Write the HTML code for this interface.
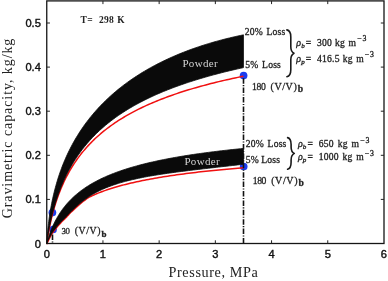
<!DOCTYPE html>
<html><head><meta charset="utf-8"><title>Gravimetric capacity</title>
<style>html,body{margin:0;padding:0;background:#fff}svg{display:block}</style></head>
<body>
<svg width="388" height="281" viewBox="0 0 388 281">
<rect width="388" height="281" fill="#fff"/>
<circle cx="243.6" cy="75.6" r="3.85" fill="#1a3cf0"/>
<circle cx="243.7" cy="166.5" r="3.85" fill="#1a3cf0"/>
<circle cx="52.4" cy="212.6" r="3.85" fill="#1a3cf0"/>
<circle cx="53.0" cy="229.5" r="3.85" fill="#1a3cf0"/>
<path d="M46.75 244.09 L46.76 244.01 L46.79 243.77 L46.84 243.38 L46.91 242.83 L47.00 242.14 L47.12 241.33 L47.25 240.40 L47.40 239.35 L47.57 238.21 L47.77 236.97 L47.98 235.65 L48.22 234.25 L48.47 232.78 L48.75 231.25 L49.04 229.66 L49.36 228.03 L49.69 226.34 L50.05 224.62 L50.43 222.86 L50.82 221.07 L51.24 219.25 L51.68 217.41 L52.14 215.55 L52.61 213.68 L53.11 211.79 L53.63 209.89 L54.17 207.99 L54.73 206.08 L55.31 204.23 L55.91 202.34 L56.53 200.45 L57.17 198.57 L57.84 196.70 L58.52 194.83 L59.22 192.97 L59.94 191.12 L60.69 189.28 L61.45 187.45 L62.23 185.63 L63.04 183.83 L63.86 182.04 L64.71 180.27 L65.57 178.51 L66.46 176.76 L67.37 175.04 L68.29 173.32 L69.24 171.63 L70.21 169.95 L71.19 168.28 L72.20 166.63 L73.23 165.00 L74.28 163.39 L75.35 161.80 L76.44 160.22 L77.55 158.66 L78.68 157.11 L79.83 155.58 L81.00 154.07 L82.19 152.58 L83.40 151.11 L84.63 149.65 L85.88 148.21 L87.16 146.78 L88.45 145.37 L89.76 143.98 L91.10 142.61 L92.45 141.25 L93.83 139.90 L95.22 138.58 L96.64 137.27 L98.07 135.97 L99.53 134.69 L101.00 133.43 L102.50 132.18 L104.02 130.94 L105.55 129.73 L107.11 128.52 L108.69 127.33 L110.29 126.16 L111.91 125.00 L113.55 123.85 L115.20 122.72 L116.88 121.60 L118.58 120.49 L120.31 119.40 L122.05 118.32 L123.81 117.25 L125.59 116.20 L127.39 115.16 L129.21 114.13 L131.06 113.12 L132.92 112.11 L134.80 111.12 L136.71 110.14 L138.63 109.18 L140.57 108.22 L142.54 107.28 L144.52 106.34 L146.53 105.42 L148.56 104.51 L150.60 103.61 L152.67 102.72 L154.76 101.84 L156.86 100.97 L158.99 100.11 L161.14 99.27 L163.31 98.43 L165.50 97.60 L167.71 96.78 L169.94 95.97 L172.19 95.17 L174.46 94.38 L176.75 93.60 L179.06 92.83 L181.39 92.07 L183.74 91.32 L186.11 90.57 L188.51 89.84 L190.92 89.11 L193.35 88.39 L195.80 87.68 L198.28 86.98 L200.77 86.28 L203.29 85.60 L205.82 84.92 L208.38 84.25 L210.95 83.59 L213.55 82.93 L216.17 82.28 L218.80 81.64 L221.46 81.01 L224.14 80.39 L226.84 79.77 L229.55 79.16 L232.29 78.55 L235.05 77.96 L237.83 77.37 L240.63 76.78 L243.45 76.21" fill="none" stroke="#f01010" stroke-width="1.5"/>
<path d="M46.75 244.10 L46.76 244.02 L46.79 243.91 L46.84 243.78 L46.91 243.62 L47.00 243.43 L47.12 243.17 L47.25 242.87 L47.40 242.54 L47.57 242.17 L47.77 241.76 L47.98 241.31 L48.22 240.83 L48.47 240.32 L48.75 239.77 L49.04 239.18 L49.36 238.56 L49.69 237.90 L50.05 237.21 L50.43 236.48 L50.82 235.72 L51.24 234.93 L51.68 234.11 L52.14 233.32 L52.61 232.69 L53.11 232.05 L53.63 231.38 L54.17 230.70 L54.73 230.00 L55.31 229.28 L55.91 228.50 L56.53 227.71 L57.17 226.90 L57.84 226.08 L58.52 225.30 L59.22 224.51 L59.94 223.72 L60.69 222.92 L61.45 222.11 L62.23 221.30 L63.04 220.49 L63.86 219.68 L64.71 218.86 L65.57 218.04 L66.46 217.13 L67.37 216.12 L68.29 215.12 L69.24 214.11 L70.21 213.10 L71.19 212.10 L72.20 211.10 L73.23 210.10 L74.28 209.11 L75.35 208.12 L76.44 207.13 L77.55 206.13 L78.68 205.13 L79.83 204.15 L81.00 203.17 L82.19 202.21 L83.40 201.26 L84.63 200.32 L85.88 199.40 L87.16 198.49 L88.45 197.60 L89.76 196.90 L91.10 196.22 L92.45 195.56 L93.83 194.95 L95.22 194.35 L96.64 193.75 L98.07 193.17 L99.53 192.59 L101.00 192.02 L102.50 191.46 L104.02 190.91 L105.55 190.37 L107.11 189.83 L108.69 189.30 L110.29 188.78 L111.91 188.27 L113.55 187.76 L115.20 187.26 L116.88 186.77 L118.58 186.29 L120.31 185.81 L122.05 185.34 L123.81 184.88 L125.59 184.42 L127.39 183.97 L129.21 183.53 L131.06 183.09 L132.92 182.66 L134.80 182.23 L136.71 181.82 L138.63 181.40 L140.57 180.99 L142.54 180.59 L144.52 180.20 L146.53 179.80 L148.56 179.42 L150.60 179.04 L152.67 178.66 L154.76 178.29 L156.86 177.93 L158.99 177.57 L161.14 177.21 L163.31 176.86 L165.50 176.52 L167.71 176.17 L169.94 175.84 L172.19 175.50 L174.46 175.18 L176.75 174.85 L179.06 174.53 L181.39 174.22 L183.74 173.90 L186.11 173.60 L188.51 173.29 L190.92 172.99 L193.35 172.69 L195.80 172.40 L198.28 172.11 L200.77 171.83 L203.29 171.54 L205.82 171.26 L208.38 170.99 L210.95 170.71 L213.55 170.44 L216.17 170.18 L218.80 169.91 L221.46 169.65 L224.14 169.40 L226.84 169.14 L229.55 168.89 L232.29 168.64 L235.05 168.39 L237.83 168.15 L240.63 167.91 L243.45 167.67" fill="none" stroke="#f01010" stroke-width="1.5"/>
<path d="M46.75 243.48 L46.76 243.11 L46.79 242.42 L46.84 241.44 L46.91 240.24 L47.00 238.84 L47.12 237.28 L47.25 235.58 L47.40 233.76 L47.57 231.85 L47.77 229.86 L47.98 227.80 L48.22 225.68 L48.47 223.53 L48.75 221.33 L49.04 219.11 L49.36 216.87 L49.69 214.62 L50.05 212.36 L50.43 210.09 L50.82 207.82 L51.24 205.55 L51.68 203.29 L52.14 201.04 L52.61 198.80 L53.11 196.57 L53.63 194.35 L54.17 192.15 L54.73 189.96 L55.31 187.78 L55.91 185.56 L56.53 183.36 L57.17 181.18 L57.84 179.01 L58.52 176.86 L59.22 174.73 L59.94 172.62 L60.69 170.52 L61.45 168.44 L62.23 166.37 L63.04 164.33 L63.86 162.29 L64.71 160.28 L65.57 158.28 L66.46 156.29 L67.37 154.32 L68.29 152.36 L69.24 150.42 L70.21 148.49 L71.19 146.58 L72.20 144.68 L73.23 142.80 L74.28 140.93 L75.35 139.08 L76.44 137.24 L77.55 135.42 L78.68 133.61 L79.83 131.82 L81.00 130.05 L82.19 128.29 L83.40 126.54 L84.63 124.81 L85.88 123.09 L87.16 121.39 L88.45 119.71 L89.76 118.04 L91.10 116.38 L92.45 114.74 L93.83 113.12 L95.22 111.50 L96.64 109.91 L98.07 108.33 L99.53 106.76 L101.00 105.21 L102.50 103.67 L104.02 102.15 L105.55 100.65 L107.11 99.15 L108.69 97.68 L110.29 96.21 L111.91 94.76 L113.55 93.33 L115.20 91.91 L116.88 90.51 L118.58 89.12 L120.31 87.74 L122.05 86.38 L123.81 85.03 L125.59 83.70 L127.39 82.38 L129.21 81.08 L131.06 79.79 L132.92 78.51 L134.80 77.25 L136.71 76.00 L138.63 74.77 L140.57 73.55 L142.54 72.34 L144.52 71.15 L146.53 69.98 L148.56 68.82 L150.60 67.67 L152.67 66.53 L154.76 65.41 L156.86 64.31 L158.99 63.22 L161.14 62.14 L163.31 61.08 L165.50 60.03 L167.71 59.00 L169.94 57.98 L172.19 56.97 L174.46 55.98 L176.75 55.01 L179.06 54.04 L181.39 53.10 L183.74 52.16 L186.11 51.25 L188.51 50.34 L190.92 49.45 L193.35 48.58 L195.80 47.72 L198.28 46.88 L200.77 46.05 L203.29 45.23 L205.82 44.43 L208.38 43.65 L210.95 42.88 L213.55 42.12 L216.17 41.38 L218.80 40.66 L221.46 39.95 L224.14 39.25 L226.84 38.57 L229.55 37.91 L232.29 37.26 L235.05 36.63 L237.83 36.01 L240.63 35.41 L243.45 34.83 L243.45 67.61 L240.63 68.23 L237.83 68.86 L235.05 69.50 L232.29 70.14 L229.55 70.79 L226.84 71.45 L224.14 72.12 L221.46 72.79 L218.80 73.48 L216.17 74.17 L213.55 74.87 L210.95 75.57 L208.38 76.29 L205.82 77.01 L203.29 77.75 L200.77 78.49 L198.28 79.24 L195.80 79.99 L193.35 80.76 L190.92 81.54 L188.51 82.32 L186.11 83.12 L183.74 83.92 L181.39 84.74 L179.06 85.56 L176.75 86.39 L174.46 87.24 L172.19 88.09 L169.94 88.95 L167.71 89.83 L165.50 90.71 L163.31 91.60 L161.14 92.51 L158.99 93.42 L156.86 94.35 L154.76 95.29 L152.67 96.24 L150.60 97.20 L148.56 98.17 L146.53 99.15 L144.52 100.14 L142.54 101.15 L140.57 102.17 L138.63 103.20 L136.71 104.24 L134.80 105.29 L132.92 106.36 L131.06 107.44 L129.21 108.53 L127.39 109.64 L125.59 110.76 L123.81 111.89 L122.05 113.03 L120.31 114.19 L118.58 115.37 L116.88 116.55 L115.20 117.75 L113.55 118.97 L111.91 120.20 L110.29 121.44 L108.69 122.70 L107.11 123.98 L105.55 125.27 L104.02 126.57 L102.50 127.89 L101.00 129.22 L99.53 130.57 L98.07 131.94 L96.64 133.32 L95.22 134.72 L93.83 136.13 L92.45 137.57 L91.10 139.01 L89.76 140.48 L88.45 141.96 L87.16 143.45 L85.88 144.97 L84.63 146.50 L83.40 148.04 L82.19 149.61 L81.00 151.19 L79.83 152.79 L78.68 154.40 L77.55 156.03 L76.44 157.68 L75.35 159.35 L74.28 161.03 L73.23 162.73 L72.20 164.45 L71.19 166.18 L70.21 167.93 L69.24 169.69 L68.29 171.47 L67.37 173.27 L66.46 175.08 L65.57 176.90 L64.71 178.74 L63.86 180.59 L63.04 182.45 L62.23 184.33 L61.45 186.22 L60.69 188.12 L59.94 190.03 L59.22 191.94 L58.52 193.87 L57.84 195.80 L57.17 197.73 L56.53 199.67 L55.91 201.62 L55.31 203.56 L54.73 205.48 L54.17 207.39 L53.63 209.29 L53.11 211.19 L52.61 213.08 L52.14 214.95 L51.68 216.81 L51.24 218.65 L50.82 220.47 L50.43 222.26 L50.05 224.02 L49.69 225.74 L49.36 227.43 L49.04 229.06 L48.75 230.65 L48.47 232.18 L48.22 233.65 L47.98 235.05 L47.77 236.37 L47.57 237.61 L47.40 238.75 L47.25 239.80 L47.12 240.73 L47.00 241.54 L46.91 242.23 L46.84 242.78 L46.79 243.17 L46.76 243.41 L46.75 243.49 Z" fill="#0a0a0a" stroke="#0a0a0a" stroke-width="0.8" stroke-linejoin="round"/>
<path d="M46.75 243.50 L46.76 243.46 L46.79 243.33 L46.84 243.12 L46.91 242.83 L47.00 242.46 L47.12 242.02 L47.25 241.51 L47.40 240.94 L47.57 240.31 L47.77 239.62 L47.98 238.88 L48.22 238.09 L48.47 237.27 L48.75 236.40 L49.04 235.50 L49.36 234.57 L49.69 233.61 L50.05 232.63 L50.43 231.63 L50.82 230.61 L51.24 229.57 L51.68 228.52 L52.14 227.46 L52.61 226.40 L53.11 225.32 L53.63 224.25 L54.17 223.17 L54.73 222.08 L55.31 220.99 L55.91 219.84 L56.53 218.69 L57.17 217.55 L57.84 216.41 L58.52 215.27 L59.22 214.14 L59.94 213.01 L60.69 211.89 L61.45 210.78 L62.23 209.68 L63.04 208.59 L63.86 207.50 L64.71 206.43 L65.57 205.36 L66.46 204.31 L67.37 203.27 L68.29 202.24 L69.24 201.22 L70.21 200.21 L71.19 199.21 L72.20 198.22 L73.23 197.25 L74.28 196.29 L75.35 195.34 L76.44 194.40 L77.55 193.47 L78.68 192.56 L79.83 191.66 L81.00 190.77 L82.19 189.89 L83.40 189.03 L84.63 188.17 L85.88 187.33 L87.16 186.50 L88.45 185.68 L89.76 184.87 L91.10 184.08 L92.45 183.29 L93.83 182.52 L95.22 181.75 L96.64 181.00 L98.07 180.26 L99.53 179.53 L101.00 178.81 L102.50 178.10 L104.02 177.40 L105.55 176.71 L107.11 176.03 L108.69 175.36 L110.29 174.70 L111.91 174.05 L113.55 173.41 L115.20 172.78 L116.88 172.16 L118.58 171.54 L120.31 170.94 L122.05 170.34 L123.81 169.76 L125.59 169.18 L127.39 168.61 L129.21 168.05 L131.06 167.49 L132.92 166.95 L134.80 166.41 L136.71 165.88 L138.63 165.36 L140.57 164.84 L142.54 164.33 L144.52 163.83 L146.53 163.34 L148.56 162.85 L150.60 162.37 L152.67 161.90 L154.76 161.44 L156.86 160.98 L158.99 160.53 L161.14 160.08 L163.31 159.64 L165.50 159.21 L167.71 158.78 L169.94 158.36 L172.19 157.94 L174.46 157.53 L176.75 157.13 L179.06 156.73 L181.39 156.34 L183.74 155.95 L186.11 155.57 L188.51 155.20 L190.92 154.83 L193.35 154.46 L195.80 154.10 L198.28 153.75 L200.77 153.40 L203.29 153.05 L205.82 152.71 L208.38 152.38 L210.95 152.05 L213.55 151.72 L216.17 151.40 L218.80 151.08 L221.46 150.77 L224.14 150.46 L226.84 150.16 L229.55 149.86 L232.29 149.56 L235.05 149.27 L237.83 148.98 L240.63 148.70 L243.45 148.42 L243.45 164.23 L240.63 164.56 L237.83 164.88 L235.05 165.21 L232.29 165.52 L229.55 165.84 L226.84 166.15 L224.14 166.45 L221.46 166.76 L218.80 167.06 L216.17 167.36 L213.55 167.66 L210.95 167.95 L208.38 168.25 L205.82 168.54 L203.29 168.83 L200.77 169.13 L198.28 169.42 L195.80 169.71 L193.35 170.00 L190.92 170.29 L188.51 170.59 L186.11 170.88 L183.74 171.18 L181.39 171.48 L179.06 171.78 L176.75 172.08 L174.46 172.38 L172.19 172.69 L169.94 173.00 L167.71 173.32 L165.50 173.64 L163.31 173.96 L161.14 174.29 L158.99 174.62 L156.86 174.96 L154.76 175.30 L152.67 175.65 L150.60 176.01 L148.56 176.37 L146.53 176.74 L144.52 177.12 L142.54 177.50 L140.57 177.90 L138.63 178.30 L136.71 178.71 L134.80 179.13 L132.92 179.55 L131.06 179.99 L129.21 180.44 L127.39 180.90 L125.59 181.37 L123.81 181.85 L122.05 182.35 L120.31 182.85 L118.58 183.37 L116.88 183.90 L115.20 184.45 L113.55 185.00 L111.91 185.58 L110.29 186.16 L108.69 186.76 L107.11 187.38 L105.55 188.01 L104.02 188.66 L102.50 189.32 L101.00 190.00 L99.53 190.70 L98.07 191.41 L96.64 192.14 L95.22 192.89 L93.83 193.65 L92.45 194.44 L91.10 195.26 L89.76 196.12 L88.45 197.00 L87.16 197.89 L85.88 198.80 L84.63 199.72 L83.40 200.66 L82.19 201.61 L81.00 202.57 L79.83 203.55 L78.68 204.53 L77.55 205.53 L76.44 206.53 L75.35 207.52 L74.28 208.51 L73.23 209.50 L72.20 210.50 L71.19 211.50 L70.21 212.50 L69.24 213.51 L68.29 214.52 L67.37 215.52 L66.46 216.53 L65.57 217.44 L64.71 218.26 L63.86 219.08 L63.04 219.89 L62.23 220.70 L61.45 221.51 L60.69 222.32 L59.94 223.12 L59.22 223.91 L58.52 224.70 L57.84 225.48 L57.17 226.30 L56.53 227.11 L55.91 227.90 L55.31 228.68 L54.73 229.40 L54.17 230.10 L53.63 230.78 L53.11 231.45 L52.61 232.09 L52.14 232.72 L51.68 233.51 L51.24 234.33 L50.82 235.12 L50.43 235.88 L50.05 236.61 L49.69 237.30 L49.36 237.96 L49.04 238.58 L48.75 239.17 L48.47 239.72 L48.22 240.23 L47.98 240.71 L47.77 241.16 L47.57 241.57 L47.40 241.94 L47.25 242.27 L47.12 242.57 L47.00 242.83 L46.91 243.02 L46.84 243.18 L46.79 243.31 L46.76 243.42 L46.75 243.50 Z" fill="#0a0a0a" stroke="#0a0a0a" stroke-width="0.8" stroke-linejoin="round"/>
<path d="M243.5 78.2 V243.5" stroke="#111" stroke-width="1.6" stroke-dasharray="5.5 1.4 1.1 1.4" fill="none"/>
<path d="M52.5 234.6 V243.5" stroke="#111" stroke-width="1.6" stroke-dasharray="5.5 1.4 1.1 1.4" fill="none"/>
<rect x="46.75" y="0.90" width="337.25" height="242.60" fill="none" stroke="#151515" stroke-width="1.3"/>
<path d="M102.95 243.50 v-3.20 M102.95 0.90 v3.20 M159.15 243.50 v-3.20 M159.15 0.90 v3.20 M215.35 243.50 v-3.20 M215.35 0.90 v3.20 M271.55 243.50 v-3.20 M271.55 0.90 v3.20 M327.75 243.50 v-3.20 M327.75 0.90 v3.20 M46.75 199.40 h3.20 M384.00 199.40 h-3.20 M46.75 155.30 h3.20 M384.00 155.30 h-3.20 M46.75 111.20 h3.20 M384.00 111.20 h-3.20 M46.75 67.10 h3.20 M384.00 67.10 h-3.20 M46.75 23.00 h3.20 M384.00 23.00 h-3.20" stroke="#222" stroke-width="1" fill="none"/>
<g font-family="'Liberation Sans', Arial, sans-serif" font-size="11.1" fill="#111" stroke="#111" stroke-width="0.4">
<text x="46.75" y="257.9" text-anchor="middle">0</text>
<text x="102.95" y="257.9" text-anchor="middle">1</text>
<text x="159.15" y="257.9" text-anchor="middle">2</text>
<text x="215.35" y="257.9" text-anchor="middle">3</text>
<text x="271.55" y="257.9" text-anchor="middle">4</text>
<text x="327.75" y="257.9" text-anchor="middle">5</text>
<text x="383.95" y="257.9" text-anchor="middle">6</text>
<text x="40.8" y="247.50" text-anchor="end">0</text>
<text x="40.8" y="203.40" text-anchor="end">0.1</text>
<text x="40.8" y="159.30" text-anchor="end">0.2</text>
<text x="40.8" y="115.20" text-anchor="end">0.3</text>
<text x="40.8" y="71.10" text-anchor="end">0.4</text>
<text x="40.8" y="27.00" text-anchor="end">0.5</text>
</g>
<g font-family="'Liberation Serif', 'DejaVu Serif', serif" fill="#222">
<text x="213.5" y="276.8" font-size="14.2" text-anchor="middle" letter-spacing="0.62">Pressure, MPa</text>
<text transform="translate(11.5 128.0) rotate(-90)" font-size="14" text-anchor="middle" letter-spacing="0.92">Gravimetric capacity, kg/kg</text>
<text x="80.6" y="22.5" font-size="9.5" font-weight="bold" letter-spacing="0.3">T=<tspan dx="3.3"> 298</tspan><tspan dx="0.5"> K</tspan></text>
<text x="182.4" y="67.1" font-size="11" fill="#d4d4d4" letter-spacing="0.35">Powder</text>
<text x="184.4" y="164.7" font-size="11" fill="#d4d4d4" letter-spacing="0.35">Powder</text>
<text x="244.7" y="35.1" font-size="9.6" word-spacing="1.0" letter-spacing="0.2" stroke="#222" stroke-width="0.3">20% Loss</text>
<text x="245.3" y="68.0" font-size="9.6" word-spacing="1.0" letter-spacing="0.2" stroke="#222" stroke-width="0.3">5% Loss</text>
<text x="245.8" y="146.8" font-size="9.6" word-spacing="1.0" letter-spacing="0.2" stroke="#222" stroke-width="0.3">20% Loss</text>
<text x="245.8" y="162.5" font-size="9.6" word-spacing="-0.4" letter-spacing="0.2" stroke="#222" stroke-width="0.3">5% Loss</text>
<text x="252.1" y="89.6" stroke="#222" stroke-width="0.28"><tspan font-size="9.7" letter-spacing="-0.45">180</tspan><tspan font-size="10.0" letter-spacing="0.6" dx="2.1"> (V/V)</tspan><tspan dy="2.4" dx="0.4" font-size="9.6" font-weight="bold">b</tspan></text>
<text x="252.8" y="183.5" stroke="#222" stroke-width="0.28"><tspan font-size="9.7" letter-spacing="-0.45">180</tspan><tspan font-size="10.0" letter-spacing="0.6" dx="2.1"> (V/V)</tspan><tspan dy="2.4" dx="0.4" font-size="9.6" font-weight="bold">b</tspan></text>
<text x="61.5" y="233.8" stroke="#222" stroke-width="0.28"><tspan font-size="8.8" letter-spacing="-0.45">30</tspan><tspan font-size="9.8" letter-spacing="0.6" dx="2.3"> (V/V)</tspan><tspan dy="2.8" dx="0.4" font-size="9.0" font-weight="bold">b</tspan></text>
<text x="296.3" y="45.6" font-size="9.6" letter-spacing="0.22" stroke="#222" stroke-width="0.3"><tspan font-style="italic" font-size="10">ρ</tspan><tspan font-style="italic" font-size="7.1" dy="2.0" dx="-0.2">b</tspan><tspan dy="-2.0" dx="0.9">=</tspan><tspan dx="2.9"> 300</tspan><tspan dx="0.45"> kg</tspan><tspan dx="0.85"> m</tspan><tspan font-size="7.8" dy="-4.2" dx="0.9" letter-spacing="0.8">−3</tspan></text>
<text x="296.3" y="61.5" font-size="9.6" letter-spacing="0.22" stroke="#222" stroke-width="0.3"><tspan font-style="italic" font-size="10">ρ</tspan><tspan font-style="italic" font-size="7.1" dy="2.0" dx="-0.2">p</tspan><tspan dy="-2.0" dx="0.9">=</tspan><tspan dx="2.9"> 416.5</tspan><tspan dx="0.45"> kg</tspan><tspan dx="0.85"> m</tspan><tspan font-size="7.8" dy="-4.2" dx="0.9" letter-spacing="0.8">−3</tspan></text>
<text x="298.0" y="147.1" font-size="9.6" letter-spacing="0.22" stroke="#222" stroke-width="0.3"><tspan font-style="italic" font-size="10">ρ</tspan><tspan font-style="italic" font-size="7.1" dy="2.0" dx="-0.2">b</tspan><tspan dy="-2.0" dx="0.9">=</tspan><tspan dx="2.9"> 650</tspan><tspan dx="1.45"> kg</tspan><tspan dx="1.15"> m</tspan><tspan font-size="7.8" dy="-4.2" dx="0.9" letter-spacing="0.8">−3</tspan></text>
<text x="298.0" y="160.2" font-size="9.6" letter-spacing="0.22" stroke="#222" stroke-width="0.3"><tspan font-style="italic" font-size="10">ρ</tspan><tspan font-style="italic" font-size="7.1" dy="2.0" dx="-0.2">p</tspan><tspan dy="-2.0" dx="0.9">=</tspan><tspan dx="2.9"> 1000</tspan><tspan dx="1.05"> kg</tspan><tspan dx="1.15"> m</tspan><tspan font-size="7.8" dy="-4.2" dx="0.9" letter-spacing="0.8">−3</tspan></text>
</g>
<path d="M286.90 29.90 Q290.80 30.70 290.80 36.90 L290.80 46.70 Q290.80 51.60 294.00 53.20 Q290.80 54.80 290.80 59.70 L290.80 69.70 Q290.80 75.90 286.90 76.70" fill="none" stroke="#1a1a1a" stroke-width="1.6" stroke-linecap="round" stroke-linejoin="round"/>
<path d="M287.60 137.60 Q291.10 138.40 291.10 144.60 L291.10 146.90 Q291.10 151.80 294.30 153.40 Q291.10 155.00 291.10 159.90 L291.10 162.20 Q291.10 168.40 287.60 169.20" fill="none" stroke="#1a1a1a" stroke-width="1.6" stroke-linecap="round" stroke-linejoin="round"/>
</svg>
</body></html>
